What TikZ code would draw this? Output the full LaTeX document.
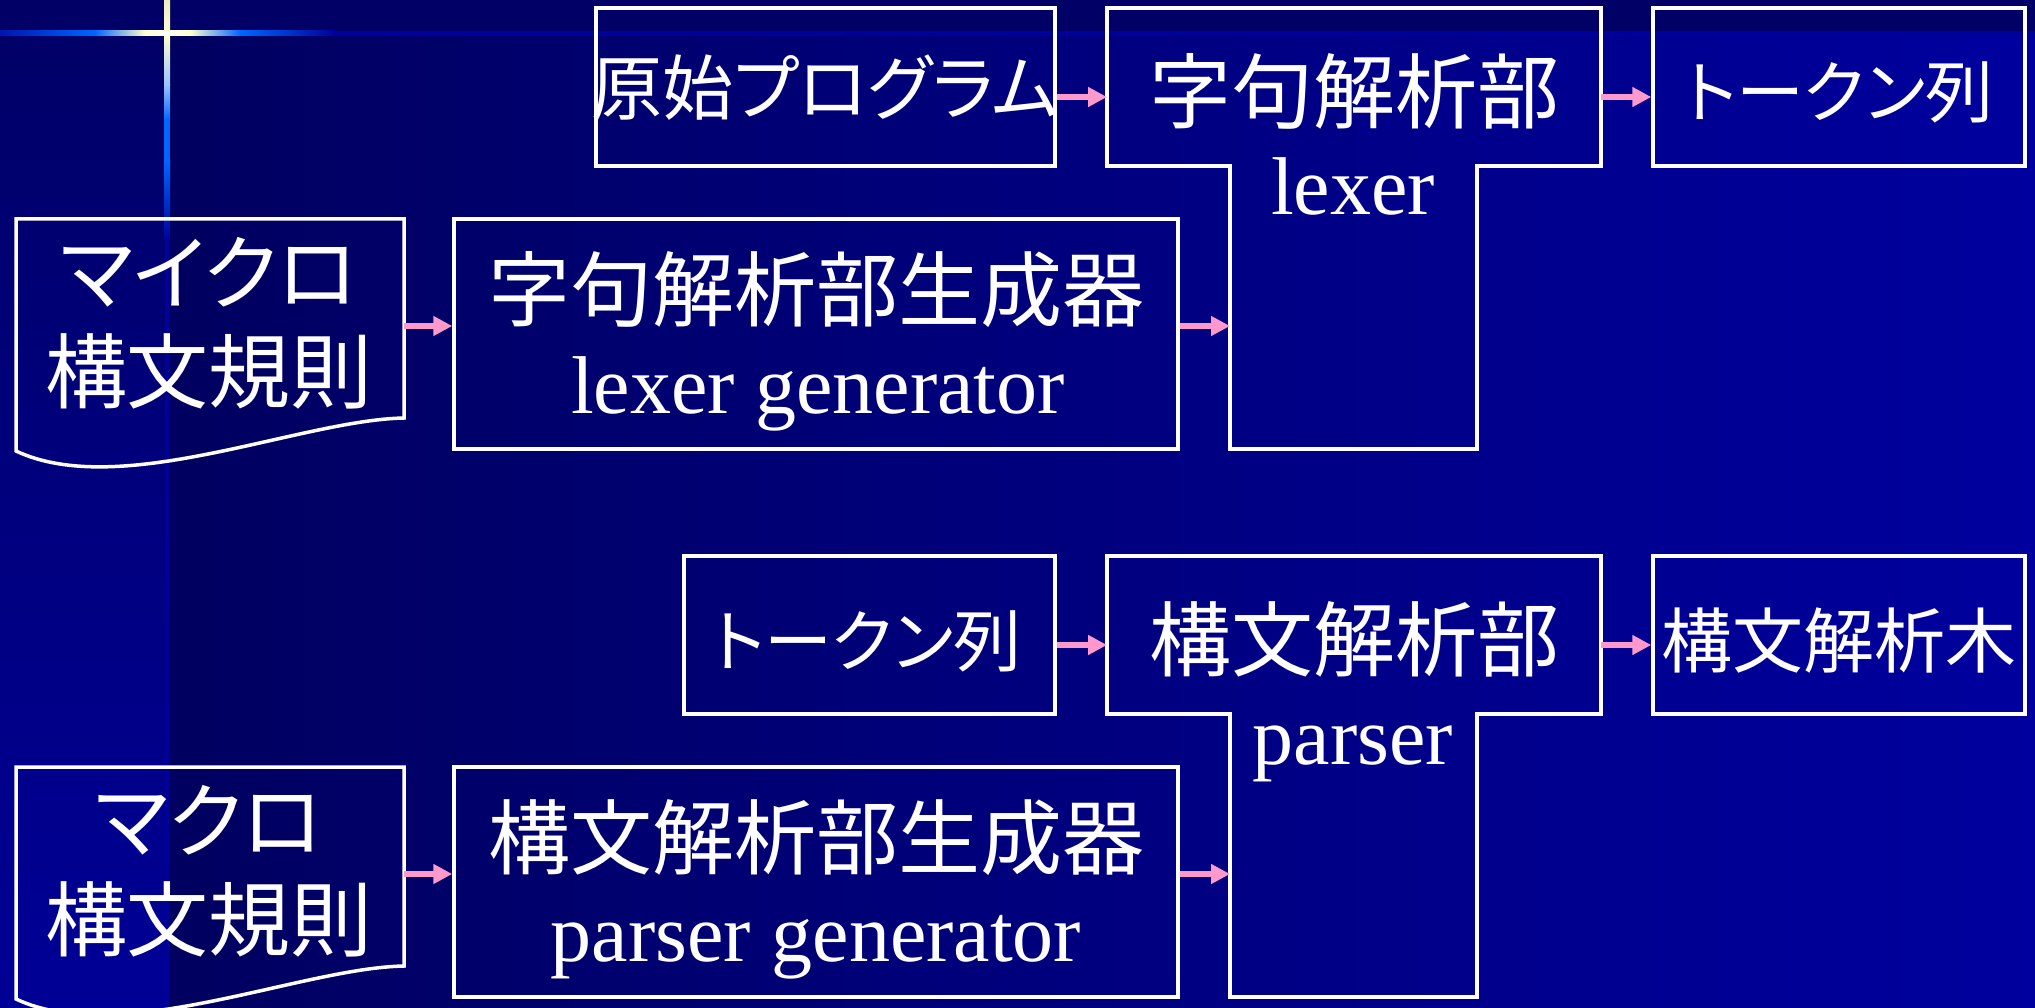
\documentclass[tikz,border=0pt]{standalone}
\usepackage{fontspec}
\setmainfont{Liberation Serif}
\newfontfamily\jpfont[RawFeature=+palt]{Noto Sans CJK JP}
\usetikzlibrary{arrows.meta}
\definecolor{bandc}{HTML}{000066}
\definecolor{bgL}{HTML}{000060}
\definecolor{bgR}{HTML}{00009E}
\definecolor{stripB}{HTML}{000096}
\definecolor{lineblue}{HTML}{0066FF}
\definecolor{linedark}{HTML}{00009A}
\definecolor{cream}{HTML}{FFFFCC}
\definecolor{arrowpink}{HTML}{FF99CC}
\newcommand\jpbig{\jpfont\fontsize{82pt}{90pt}\selectfont}
\newcommand\jpsmall{\jpfont\fontsize{71pt}{80pt}\selectfont}
\newcommand\jpkana{\jpfont\fontsize{68pt}{78pt}\selectfont}
\newcommand\enbig{\rmfamily\fontsize{82pt}{90pt}\selectfont}
\tikzset{
  boxnode/.style={draw=white, line width=3.5pt, inner sep=0pt, rectangle},
  helper/.style={draw=none, inner sep=0pt, outer sep=0pt, rectangle},
  outline/.style={draw=white, line width=3.5pt, line join=miter},
  txt/.style={text=white, inner sep=0pt, outer sep=0pt},
  arr/.style={draw=arrowpink, line width=6pt, -{Triangle[length=19pt,width=19pt]}}
}
\begin{document}
\begin{tikzpicture}[x=1pt,y=-1pt]
\useasboundingbox (0,0) rectangle (2035,1008);
% background
\shade[left color=bgL, right color=bgR] (167,0) rectangle (2035,1008);
\shade[top color=bandc, bottom color=stripB] (0,0) rectangle (167,1008);
\fill[bandc] (0,0) rectangle (2035,31);
% horizontal decorative line
\shade[left color=linedark!80!lineblue, right color=lineblue] (0,31) rectangle (95,36);
\shade[left color=lineblue, right color=cream] (95,31) rectangle (145,36);
\shade[left color=cream, right color=white] (145,31) rectangle (167,36);
\shade[left color=white, right color=cream] (167,31) rectangle (190,36);
\shade[left color=cream, right color=lineblue] (190,31) rectangle (240,36);
\shade[left color=lineblue, right color=linedark] (240,31) rectangle (335,36);
\fill[linedark] (335,31) rectangle (2035,36);
% vertical decorative line
\shade[top color=cream!85!gray, bottom color=cream] (164,0) rectangle (170,31);
\fill[white] (164,31) rectangle (170,36);
\shade[top color=cream, bottom color=lineblue!40!white] (164,36) rectangle (170,85);
\shade[top color=lineblue!40!white, bottom color=lineblue] (164,85) rectangle (170,120);
\fill[lineblue] (164,120) rectangle (170,160);
\shade[top color=lineblue, bottom color=linedark] (164,160) rectangle (170,240);
\fill[linedark] (165,240) rectangle (169,1008);

% ===== top row =====
\node[boxnode, minimum width=459pt, minimum height=158pt] (orig) at (825.5,87) {};
\node[txt] (origt) at (825,88) {\jpsmall 原始プログラム};

\node[helper, minimum width=494pt, minimum height=158pt] (Ttop) at (1354,87) {};
\node[helper, minimum width=247pt, minimum height=283pt] (Tstem) at (1353.5,307.5) {};
\draw[outline] (Ttop.north west) -- (Ttop.north east) -- (Ttop.south east) -- (Tstem.north east)
  -- (Tstem.south east) -- (Tstem.south west) -- (Tstem.north west) -- (Ttop.south west) -- cycle;
\node[txt] (Tt1) at (1354,91) {\jpbig 字句解析部};
\node[txt, anchor=base] (Tt2) at (1353,215) {\enbig lexer};

\node[boxnode, minimum width=372pt, minimum height=158pt] (tok1) at (1839,87) {};
\node[txt] (tok1t) at (1839,92) {\jpkana トークン列};

\node[helper, minimum width=388pt, minimum height=232pt] (doc1) at (210,335) {};
\draw[outline] (doc1.south west) -- (doc1.north west) -- (doc1.north east) -- ([yshift=33pt]doc1.south east)
  .. controls ([xshift=-104pt,yshift=31pt]doc1.south east) and ([xshift=104pt,yshift=-49pt]doc1.south west) .. (doc1.south west) -- cycle;
\node[txt] (doc1a) at (209,272) {\jpbig マイクロ};
\node[txt] (doc1b) at (209,371) {\jpbig 構文規則};

\node[boxnode, minimum width=724pt, minimum height=230pt] (gen1) at (816,334) {};
\node[txt] (gen1a) at (816,290) {\jpbig 字句解析部生成器};
\node[txt, anchor=base] (gen1b) at (818,413) {\enbig lexer generator};

\draw[arr] (orig.east |- 0,97) -- (Ttop.west |- 0,97);
\draw[arr] (Ttop.east |- 0,97) -- (tok1.west |- 0,97);
\draw[arr] (doc1.east |- 0,326) -- (gen1.west |- 0,326);
\draw[arr] (gen1.east |- 0,326) -- (Tstem.west |- 0,326);

% ===== bottom row =====
\node[boxnode, minimum width=371pt, minimum height=158pt] (tok2) at (869.5,635) {};
\node[txt] (tok2t) at (867,641) {\jpkana トークン列};

\node[helper, minimum width=494pt, minimum height=158pt] (Ptop) at (1354,635) {};
\node[helper, minimum width=247pt, minimum height=283pt] (Pstem) at (1353.5,855.5) {};
\draw[outline] (Ptop.north west) -- (Ptop.north east) -- (Ptop.south east) -- (Pstem.north east)
  -- (Pstem.south east) -- (Pstem.south west) -- (Pstem.north west) -- (Ptop.south west) -- cycle;
\node[txt] (Pt1) at (1354,639) {\jpbig 構文解析部};
\node[txt, anchor=base] (Pt2) at (1353,764) {\enbig parser};

\node[boxnode, minimum width=372pt, minimum height=158pt] (tree) at (1839,635) {};
\node[txt] (treet) at (1839,641) {\jpsmall 構文解析木};

\node[helper, minimum width=388pt, minimum height=232pt] (doc2) at (210,883) {};
\draw[outline] (doc2.south west) -- (doc2.north west) -- (doc2.north east) -- ([yshift=33pt]doc2.south east)
  .. controls ([xshift=-104pt,yshift=31pt]doc2.south east) and ([xshift=104pt,yshift=-49pt]doc2.south west) .. (doc2.south west) -- cycle;
\node[txt] (doc2a) at (209,820) {\jpbig マクロ};
\node[txt] (doc2b) at (209,919) {\jpbig 構文規則};

\node[boxnode, minimum width=724pt, minimum height=230pt] (gen2) at (816,882) {};
\node[txt] (gen2a) at (816,838) {\jpbig 構文解析部生成器};
\node[txt, anchor=base] (gen2b) at (816,961) {\enbig parser generator};

\draw[arr] (tok2.east |- 0,645) -- (Ptop.west |- 0,645);
\draw[arr] (Ptop.east |- 0,645) -- (tree.west |- 0,645);
\draw[arr] (doc2.east |- 0,874) -- (gen2.west |- 0,874);
\draw[arr] (gen2.east |- 0,874) -- (Pstem.west |- 0,874);
\end{tikzpicture}
\end{document}
